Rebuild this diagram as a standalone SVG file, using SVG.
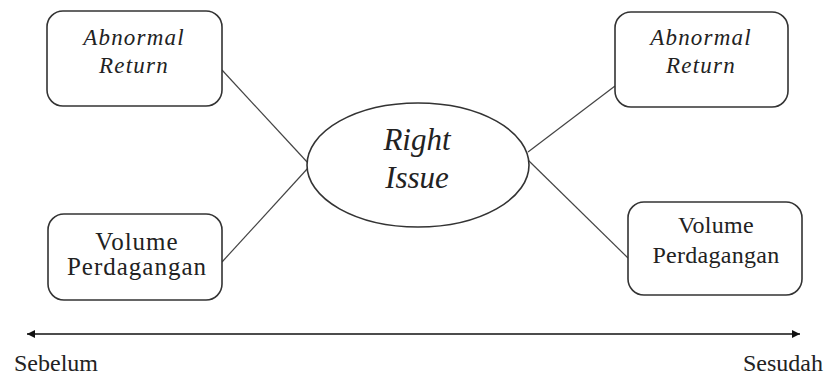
<svg xmlns="http://www.w3.org/2000/svg" width="825" height="376" viewBox="0 0 825 376">
<style>
.box{fill:#fff;stroke:#333;stroke-width:1.6}
.t{font-family:"Liberation Serif",serif;font-size:25px;fill:#222;text-anchor:middle}
.i{font-style:italic;font-size:23px;letter-spacing:1.2px}
.v{letter-spacing:1px}
.ln{stroke:#444;stroke-width:1.2;fill:none}
</style>
<defs>
<marker id="ah" viewBox="0 0 10 10" refX="10" refY="5" markerWidth="11" markerHeight="8" orient="auto-start-reverse" markerUnits="userSpaceOnUse">
<path d="M0,0 L10,5 L0,10 Z" fill="#111"/>
</marker>
</defs>
<rect width="825" height="376" fill="#fff"/>
<g id="connectors">
<line class="ln" x1="222" y1="70" x2="308" y2="163"/>
<line class="ln" x1="222" y1="262" x2="308" y2="168"/>
<line class="ln" x1="528" y1="152" x2="615" y2="86"/>
<line class="ln" x1="528" y1="160" x2="628" y2="258"/>
<line x1="27" y1="334" x2="800" y2="334" stroke="#111" stroke-width="1.5" marker-start="url(#ah)" marker-end="url(#ah)"/>
</g>
<g id="ar-before">
<rect class="box" x="47" y="11" width="175" height="95" rx="16"/>
<text class="t i" x="134" y="45">Abnormal</text>
<text class="t i" x="134" y="73">Return</text>
</g>
<g id="vol-before">
<rect class="box" x="48" y="214" width="174" height="86" rx="16"/>
<text class="t v" x="137" y="250">Volume</text>
<text class="t v" x="137" y="275">Perdagangan</text>
</g>
<g id="right-issue">
<ellipse class="box" cx="418" cy="165" rx="111" ry="62"/>
<text class="t" x="417" y="150" style="font-size:31px;font-style:italic">Right</text>
<text class="t" x="417" y="188" style="font-size:31px;font-style:italic">Issue</text>
</g>
<g id="ar-after">
<rect class="box" x="615" y="12" width="173" height="95" rx="16"/>
<text class="t i" x="701" y="45">Abnormal</text>
<text class="t i" x="701" y="73">Return</text>
</g>
<g id="vol-after">
<rect class="box" x="628" y="202" width="174" height="93" rx="16"/>
<text class="t" x="716" y="233" style="font-size:24px;letter-spacing:0.3px">Volume</text>
<text class="t" x="716" y="263" style="font-size:24px;letter-spacing:0.3px">Perdagangan</text>
</g>
<g id="labels">
<text class="t" x="14" y="371" style="text-anchor:start;font-size:24px">Sebelum</text>
<text class="t" x="823" y="371" style="text-anchor:end;font-size:24px">Sesudah</text>
</g>
</svg>
